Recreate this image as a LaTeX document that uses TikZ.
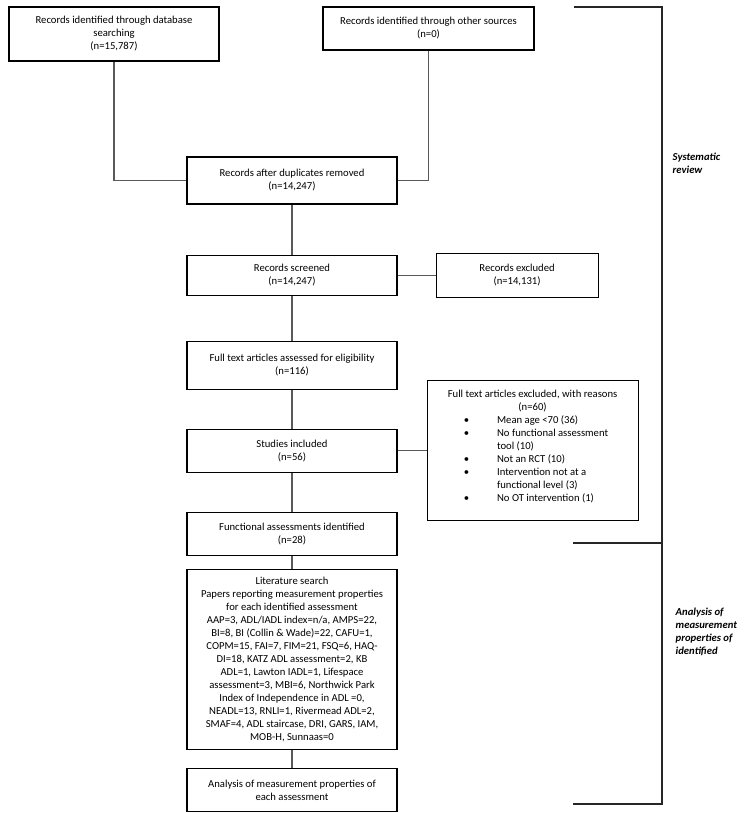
\documentclass[tikz,border=0pt]{standalone}
\usepackage{fontspec}
\setmainfont{Carlito}
\usetikzlibrary{positioning}
\newcommand{\flowfont}{\fontsize{8pt}{9.75pt}\selectfont}
\tikzset{
  box/.style={draw,line width=0.8pt,minimum width=157.5pt,
            align=center,inner sep=2pt,fill=white,font=\flowfont},
  link/.style={draw,black!65,line width=0.8pt},
  brace/.style={draw,black!85,line width=0.8pt},
  side/.style={anchor=north west,align=left,font=\flowfont\bfseries\itshape},
}

\begin{document}
\begin{tikzpicture}[x=0.75pt,y=-0.75pt]
  \useasboundingbox (0,0) rectangle (749,813);
  % identification
  \node[box,minimum height=40.5pt] (db) at (114,34)
        {Records identified through database\\searching\\(n=15,787)};
  \node[box,minimum height=32.25pt,minimum width=158.25pt] (other) at (428.5,28.5)
        {Records identified through other sources\\(n=0)};
  \node[box,minimum height=35.25pt] (dup) at (292,180.5)
        {Records after duplicates removed\\(n=14,247)};
  % screening
  \node[box,minimum height=30pt,below=37.5pt of dup] (screen)
        {Records screened\\(n=14,247)};
  \node[box,minimum height=33pt,minimum width=121.5pt,right=28.5pt of screen] (excl)
        {Records excluded\\(n=14,131)};
  \node[box,minimum height=36pt,below=33.75pt of screen] (full)
        {Full text articles assessed for eligibility\\(n=116)};
  \node[box,minimum height=32.25pt,below=29.25pt of full] (incl)
        {Studies included\\(n=56)};
  \node[box,minimum height=105pt,minimum width=158.25pt,right=21.75pt of incl] (reasons)
        {\begin{tabular}{@{\hspace{18pt}}c@{\hspace{21pt}}l@{}}
         \multicolumn{2}{c}{Full text articles excluded, with reasons}\\
         \multicolumn{2}{c}{(n=60)}\\
         \textbullet & Mean age <70 (36)\\
         \textbullet & No functional assessment\\
                     & tool (10)\\
         \textbullet & Not an RCT (10)\\
         \textbullet & Intervention not at a\\
                     & functional level (3)\\
         \textbullet & No OT intervention (1)\\[6pt]
         \end{tabular}};
  % measurement properties
  \node[box,minimum height=32.25pt,below=29.25pt of incl] (func)
        {Functional assessments identified\\(n=28)};
  \node[box,minimum height=135pt,below=9.75pt of func] (lit)
        {Literature search\\Papers reporting measurement properties\\for each identified assessment\\
         AAP=3, ADL/IADL index=n/a, AMPS=22,\\BI=8, BI (Collin \& Wade)=22, CAFU=1,\\
         COPM=15, FAI=7, FIM=21, FSQ=6, HAQ-\\DI=18, KATZ ADL assessment=2, KB\\
         ADL=1, Lawton IADL=1, Lifespace\\assessment=3, MBI=6, Northwick Park\\
         Index of Independence in ADL =0,\\NEADL=13, RNLI=1, Rivermead ADL=2,\\
         SMAF=4, ADL staircase, DRI, GARS, IAM,\\MOB-H, Sunnaas=0};
  \node[box,minimum height=32.25pt,below=13.5pt of lit] (anal)
        {Analysis of measurement properties of\\each assessment};

  \draw[link] (db.south) |- (dup.west);
  \draw[link] (other.south) |- (dup.east);
  \draw[link] (dup) -- (screen);
  \draw[link] (screen) -- (excl);
  \draw[link] (screen) -- (full);
  \draw[link] (full) -- (incl);
  \draw[link] (incl) -- (reasons);
  \draw[link] (incl) -- (func);
  \draw[link] (func) -- (lit);
  \draw[link] (lit) -- (anal);

  % bracket on the right
  \coordinate (brtop) at (574,7);
  \coordinate (brmid) at (573,543);
  \coordinate (brbot) at (573,804);
  \draw[brace] (brtop) -| (brbot -| 662,0) -- (brbot);
  \draw[brace] (brmid) -- (brmid -| 662,0);
  \node[side] (sysrev) at (668,148) {Systematic\\review};
  \node[side] (mprop) at (671,603) {Analysis of\\measurement\\properties of\\identified};
\end{tikzpicture}
\end{document}
